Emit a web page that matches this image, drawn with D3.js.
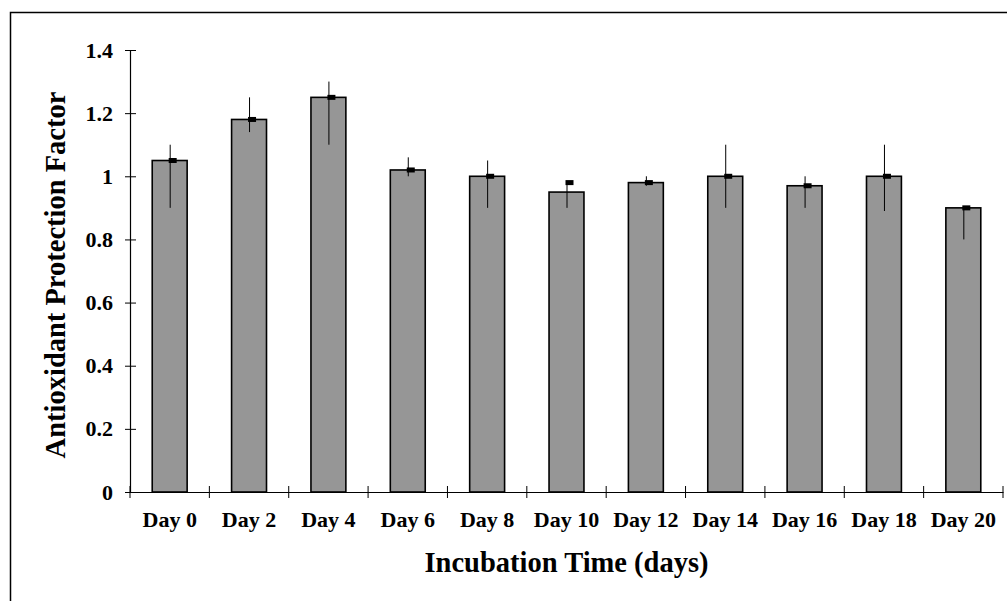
<!DOCTYPE html>
<html>
<head>
<meta charset="utf-8">
<script src="https://cdn.jsdelivr.net/npm/d3@7"></script>
<style>
  html, body { margin: 0; padding: 0; background: #fff; }
  svg { display: block; }
  text { font-family: "Liberation Serif", "Times New Roman", serif; font-weight: bold; fill: #000; }
</style>
</head>
<body>
<script>
// ---- data ----
const categories = ["Day 0", "Day 2", "Day 4", "Day 6", "Day 8", "Day 10", "Day 12", "Day 14", "Day 16", "Day 18", "Day 20"];
const barValues = [1.05, 1.18, 1.25, 1.02, 1.00, 0.95, 0.98, 1.00, 0.97, 1.00, 0.90];
const markerValues = [1.05, 1.18, 1.25, 1.02, 1.00, 0.98, 0.98, 1.00, 0.97, 1.00, 0.90];
const errorLow = [0.90, 1.14, 1.10, 1.00, 0.90, 0.90, 0.97, 0.90, 0.90, 0.89, 0.80];
const errorHigh = [1.10, 1.25, 1.30, 1.06, 1.05, 0.98, 1.00, 1.10, 1.00, 1.10, 0.90];
const yTickValues = [0, 0.2, 0.4, 0.6, 0.8, 1, 1.2, 1.4];
const yTitle = "Antioxidant Protection Factor";
const xTitle = "Incubation Time (days)";

const W = 1007, H = 601;
const m = { left: 130, right: 1003, top: 50, bottom: 492 };

const svg = d3.select("body").append("svg").attr("width", W).attr("height", H);

// outer frame (extends past canvas edges)
svg.append("rect").attr("x", 10.5).attr("y", 12.5).attr("width", 1010).attr("height", 600)
  .attr("fill", "none").attr("stroke", "#000").attr("stroke-width", 1.5);

const x = d3.scaleBand().domain(categories).range([m.left, m.right]).padding(0);
const y = d3.scaleLinear().domain([0, 1.4]).range([m.bottom, m.top]);
const barFrac = 0.44;
const bw = x.bandwidth() * barFrac;

const data = categories.map((c, i) => ({ c, v: barValues[i], mk: markerValues[i], lo: errorLow[i], hi: errorHigh[i] }));

// bars
svg.append("g").selectAll("rect").data(data).join("rect")
  .attr("x", d => x(d.c) + (x.bandwidth() - bw) / 2)
  .attr("y", d => y(d.v))
  .attr("width", bw)
  .attr("height", d => y(0) - y(d.v))
  .attr("fill", "#969696").attr("stroke", "#000").attr("stroke-width", 1.6);

// error bars
svg.append("g").selectAll("line").data(data).join("line")
  .attr("x1", d => x(d.c) + x.bandwidth() / 2 + 0.5)
  .attr("x2", d => x(d.c) + x.bandwidth() / 2 + 0.5)
  .attr("y1", d => y(d.lo)).attr("y2", d => y(d.hi))
  .attr("stroke", "#000").attr("stroke-width", 1);

// markers
svg.append("g").selectAll("rect").data(data).join("rect")
  .attr("x", d => x(d.c) + x.bandwidth() / 2 - 1)
  .attr("y", d => y(d.mk) - 2.5)
  .attr("width", 8).attr("height", 5)
  .attr("fill", "#000");

// y axis
const yAxis = svg.append("g").attr("transform", `translate(${m.left},0)`)
  .call(d3.axisLeft(y).tickValues(yTickValues).tickFormat(d3.format("~g")).tickSize(0).tickPadding(17));
yAxis.select(".domain").attr("stroke", "#000").attr("stroke-width", 1.2);
yAxis.selectAll(".tick text").attr("font-size", 22).attr("dy", "0.32em");
yAxis.selectAll(".tick").append("line").attr("x1", -5).attr("x2", 6).attr("stroke", "#000").attr("stroke-width", 1);

// x axis (labels at band centres, ticks at band boundaries)
const xAxis = svg.append("g").attr("transform", `translate(0,${m.bottom})`)
  .call(d3.axisBottom(x).tickSize(0));
xAxis.select(".domain").attr("stroke", "#000").attr("stroke-width", 1.2);
xAxis.selectAll(".tick text").attr("font-size", 22).attr("y", 35).attr("dy", 0);
const bounds = categories.map(c => x(c)).concat([x.range()[1]]);
xAxis.selectAll("line.bnd").data(bounds).join("line").attr("class", "bnd")
  .attr("x1", d => d).attr("x2", d => d).attr("y1", -6).attr("y2", 6)
  .attr("stroke", "#000").attr("stroke-width", 1);

// titles
svg.append("text").attr("x", (m.left + m.right) / 2).attr("y", 572)
  .attr("text-anchor", "middle").attr("font-size", 28.5).text(xTitle);
svg.append("text").attr("transform", `translate(65,${(m.top + m.bottom) / 2 + 4}) rotate(-90)`)
  .attr("text-anchor", "middle").attr("font-size", 28.5).text(yTitle);
</script>
</body>
</html>
